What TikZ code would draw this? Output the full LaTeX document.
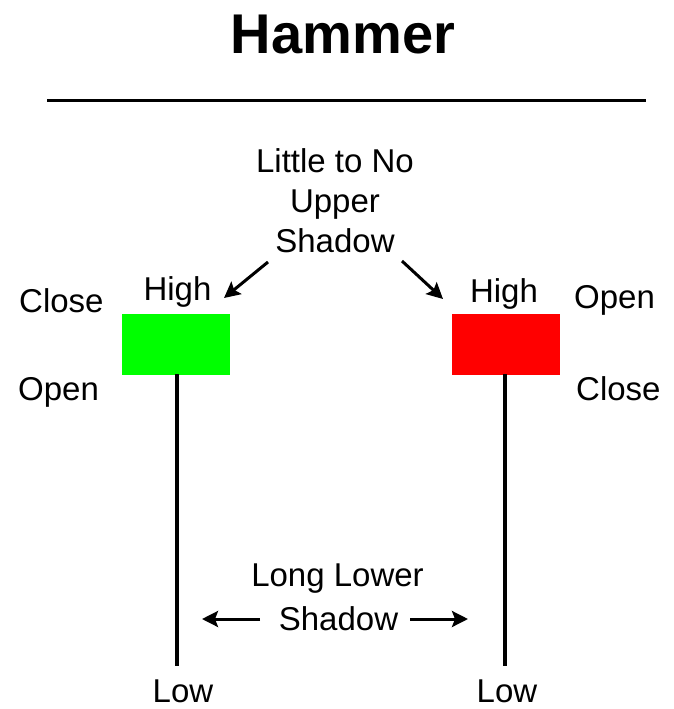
\documentclass[tikz,border=0pt]{standalone}
\usepackage{fontspec}
\setmainfont{Liberation Sans}
\usetikzlibrary{arrows.meta}
\definecolor{bullgreen}{RGB}{0,255,0}
\definecolor{bearred}{RGB}{255,0,0}
\begin{document}
\begin{tikzpicture}[x=1pt,y=-1pt,
  lbl/.style={inner sep=0pt, font=\fontsize{33}{40}\selectfont},
  ttl/.style={inner sep=0pt, font=\fontsize{56}{60}\selectfont\bfseries},
  pointer/.style={line width=3pt, -{Stealth[length=16pt,width=16pt,inset=3pt]}},
  wick/.style={line width=4pt},
  body/.style={draw=none, minimum width=108pt, minimum height=61pt, inner sep=0pt}]
\useasboundingbox (0,0) rectangle (674,709);
% title and rule
\node[ttl, anchor=base] (title) at (343,53) {Hammer};
\coordinate (ruleL) at (47,100);
\coordinate (ruleR) at (646,100);
\draw[line width=3pt] (ruleL) -- (ruleR);
% candle bodies
\node[body, fill=bullgreen] (gbox) at (176,344) {};
\node[body, fill=bearred] (rbox) at (505.5,344) {};
% wick ends
\coordinate (gend) at (177,666);
\coordinate (rend) at (505,666);
\draw[wick] (177,374) -- (gend);
\draw[wick] (505,374) -- (rend);
% labels left
\node[lbl, anchor=base west] (gclose) at (19,312) {Close};
\node[lbl, anchor=base west] (gopen) at (18,400) {Open};
\node[lbl, anchor=base] (ghigh) at (177.5,300) {High};
\node[lbl, anchor=base] (glow) at (183,702) {Low};
% labels right
\node[lbl, anchor=base] (rhigh) at (504,302) {High};
\node[lbl, anchor=base west] (ropen) at (574,308) {Open};
\node[lbl, anchor=base west] (rclose) at (576,400) {Close};
\node[lbl, anchor=base] (rlow) at (507,702) {Low};
% upper shadow text
\node[lbl, anchor=base] (up1) at (335,172) {Little to No};
\node[lbl, anchor=base] (up2) at (335,212) {Upper};
\node[lbl, anchor=base] (up3) at (335,252) {Shadow};
\coordinate (uaL0) at (268,262);
\coordinate (uaL1) at (224,298);
\coordinate (uaR0) at (402,261);
\coordinate (uaR1) at (443,299);
\draw[pointer] (uaL0) -- (uaL1);
\draw[pointer] (uaR0) -- (uaR1);
% lower shadow text
\node[lbl, anchor=base] (lo1) at (337.5,586) {Long Lower};
\node[lbl, anchor=base] (lo2) at (338.5,630) {Shadow};
\coordinate (laL0) at (260,619);
\coordinate (laL1) at (202,619);
\coordinate (laR0) at (410,619);
\coordinate (laR1) at (468,619);
\draw[pointer] (laL0) -- (laL1);
\draw[pointer] (laR0) -- (laR1);
\end{tikzpicture}
\end{document}
